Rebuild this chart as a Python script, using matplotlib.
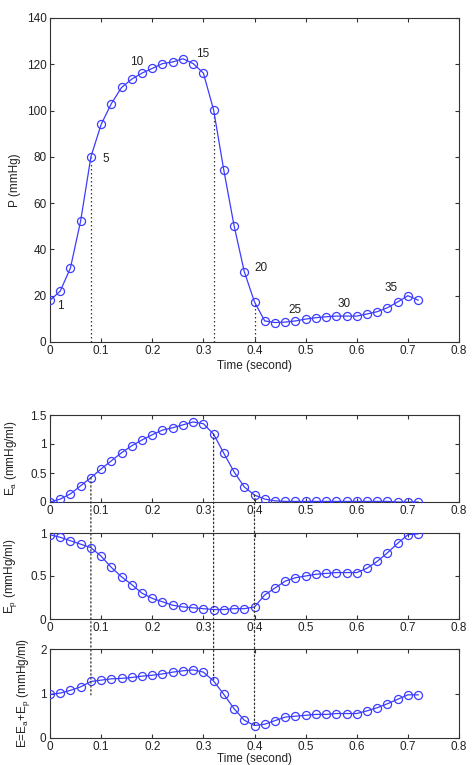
import matplotlib
matplotlib.use("Agg")
import matplotlib.pyplot as plt
from matplotlib.patches import ConnectionPatch
import numpy as np

plt.rcParams['font.family'] = ['Liberation Sans', 'DejaVu Sans']
plt.rcParams['font.size'] = 8.5
plt.rcParams['mathtext.fontset'] = 'custom'
plt.rcParams['mathtext.rm'] = 'Liberation Sans'
plt.rcParams['mathtext.it'] = 'Liberation Sans'

time = [0.00, 0.02, 0.04, 0.06, 0.08, 0.10, 0.12, 0.14, 0.16, 0.18,
        0.20, 0.22, 0.24, 0.26, 0.28, 0.30, 0.32, 0.34, 0.36, 0.38,
        0.40, 0.42, 0.44, 0.46, 0.48, 0.50, 0.52, 0.54, 0.56, 0.58,
        0.60, 0.62, 0.64, 0.66, 0.68, 0.70, 0.72]

pressure = [18, 22, 32, 52.4, 80, 94, 103, 110, 113.6, 116.2,
            118.2, 120.3, 121, 122.4, 120.3, 116.2, 100.3, 74.2, 50.3, 30.4,
            17.3, 9.1, 8.4, 8.6, 9.1, 9.9, 10.5, 10.9, 11.2, 11.2,
            11.2, 12.1, 13.1, 14.8, 17.3, 20, 18.1]

Ea = [0.0, 0.05, 0.14, 0.28, 0.42, 0.57, 0.71, 0.85, 0.97, 1.07,
      1.16, 1.24, 1.28, 1.33, 1.38, 1.35, 1.17, 0.84, 0.52, 0.26,
      0.12, 0.05, 0.02, 0.01, 0.01, 0.01, 0.01, 0.01, 0.01, 0.01,
      0.01, 0.01, 0.01, 0.01, 0.0, 0.0, 0.0]

Ep = [0.98, 0.95, 0.91, 0.87, 0.83, 0.73, 0.60, 0.49, 0.40, 0.30,
      0.24, 0.20, 0.16, 0.14, 0.13, 0.12, 0.11, 0.11, 0.12, 0.12,
      0.14, 0.28, 0.36, 0.44, 0.48, 0.50, 0.52, 0.53, 0.54, 0.54,
      0.54, 0.59, 0.67, 0.77, 0.88, 0.98, 0.99]

E = [0.98, 1.01, 1.07, 1.15, 1.27, 1.30, 1.33, 1.34, 1.36, 1.39,
     1.41, 1.44, 1.48, 1.51, 1.53, 1.48, 1.28, 0.98, 0.66, 0.40,
     0.28, 0.31, 0.39, 0.47, 0.49, 0.51, 0.53, 0.53, 0.55, 0.55,
     0.55, 0.61, 0.68, 0.77, 0.87, 0.97, 0.97]

point_labels = ['1', '5', '10', '15', '20', '25', '30', '35']
label_index = [0, 4, 9, 14, 19, 24, 29, 34]
label_offsets = [(10, -6), (15, -2), (-5, 11), (10, 10), (17, 4), (0, 11), (-2, 12), (-7, 14)]

marker_times = [0.08, 0.32, 0.40]
marker_index = [4, 16, 20]
lower_end_E = [0.97, 1.28, 0.28]

xticks = [0, 0.1, 0.2, 0.3, 0.4, 0.5, 0.6, 0.7, 0.8]
xticklabels = ['0', '0.1', '0.2', '0.3', '0.4', '0.5', '0.6', '0.7', '0.8']

W, H = 472, 765
fig = plt.figure(figsize=(W / 100, H / 100), dpi=100)

def rect(l, t, r, b):
    return [l / W, 1 - b / H, (r - l) / W, (b - t) / H]

blue = '#3c3cff'
txtc = '#222222'

def style(ax, yticks, yticklabels, ylim):
    ax.set_xlim(0, 0.8)
    ax.set_ylim(*ylim)
    ax.set_xticks(xticks)
    ax.set_xticklabels(xticklabels)
    ax.set_yticks(yticks)
    ax.set_yticklabels(yticklabels)
    ax.tick_params(direction='in', top=True, right=True, length=3, width=0.8,
                   colors='#333333', labelcolor=txtc, pad=2.5)
    for s in ax.spines.values():
        s.set_linewidth(0.8)
        s.set_color('#333333')

def plot_series(ax, y):
    ax.plot(time, y, color=blue, lw=0.9, marker='o', ms=5.8, mfc='none',
            mec=blue, mew=0.9, zorder=3)

# Top axes
ax1 = fig.add_axes(rect(50, 18, 459, 342))
plot_series(ax1, pressure)
style(ax1, [0, 20, 40, 60, 80, 100, 120, 140],
      ['0', '20', '40', '60', '80', '100', '120', '140'], (0, 140))
for t, i in zip(marker_times, marker_index):
    ax1.plot([t, t], [0, pressure[i]], color='#333333', lw=0.9,
             ls=(0, (1.2, 2)), zorder=2)
for lab, i, off in zip(point_labels, label_index, label_offsets):
    ax1.annotate(lab, (time[i], pressure[i]), xytext=off,
                 textcoords='offset pixels', ha='center', va='center',
                 fontsize=8.5, color=txtc)
ax1.set_xlabel('Time (second)', color=txtc, labelpad=1.5)
ax1.set_ylabel('P (mmHg)', color=txtc)
ax1.yaxis.set_label_coords(-0.072, 0.5)

# Ea axes
ax2 = fig.add_axes(rect(50, 415, 459, 502))
plot_series(ax2, Ea)
style(ax2, [0, 0.5, 1, 1.5], ['0', '0.5', '1', '1.5'], (0, 1.5))
ax2.set_ylabel('E$_\\mathregular{a}$ (mmHg/ml)', color=txtc)
ax2.yaxis.set_label_coords(-0.076, 0.5)

# Ep axes
ax3 = fig.add_axes(rect(50, 533, 459, 619))
plot_series(ax3, Ep)
style(ax3, [0, 0.5, 1], ['0', '0.5', '1'], (0, 1))
ax3.set_ylabel('E$_\\mathregular{p}$ (mmHg/ml)', color=txtc)
ax3.yaxis.set_label_coords(-0.076, 0.5)

# E axes
ax4 = fig.add_axes(rect(50, 649, 459, 738))
plot_series(ax4, E)
style(ax4, [0, 1, 2], ['0', '1', '2'], (0, 2))
ax4.set_ylabel('E=E$_\\mathregular{a}$+E$_\\mathregular{p}$ (mmHg/ml)', color=txtc)
ax4.yaxis.set_label_coords(-0.045, 0.5)
ax4.set_xlabel('Time (second)', color=txtc, labelpad=0)

for t, i, e in zip(marker_times, marker_index, lower_end_E):
    con = ConnectionPatch(xyA=(t, Ea[i]), coordsA=ax2.transData,
                          xyB=(t, e), coordsB=ax4.transData,
                          color='#333333', lw=0.9, ls=(0, (1.2, 2)), zorder=2)
    fig.add_artist(con)

fig.savefig('out.png', dpi=100)
